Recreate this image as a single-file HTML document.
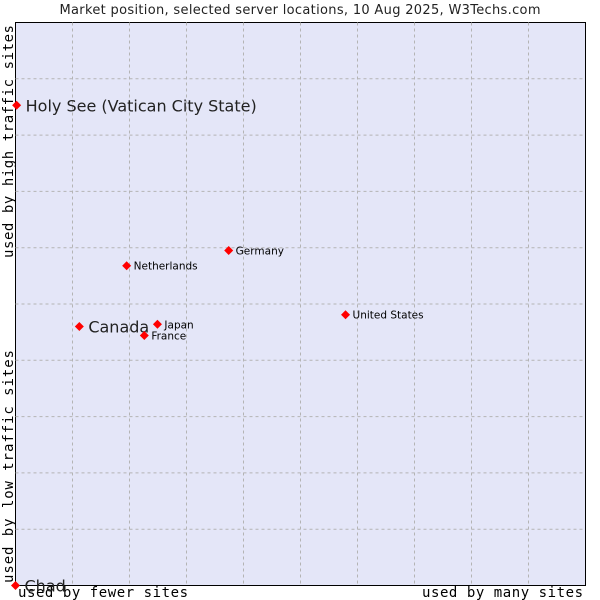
<!DOCTYPE html>
<html><head><meta charset="utf-8"><style>
html,body{margin:0;padding:0;background:#fff;width:600px;height:600px;overflow:hidden}
svg text{font-family:"DejaVu Sans","Liberation Sans",sans-serif}
.mono{font-family:"DejaVu Sans Mono","Liberation Mono",monospace}
</style></head><body>
<svg id="chart" width="600" height="600" xmlns="http://www.w3.org/2000/svg">
<text x="300" y="14" text-anchor="middle" font-size="13" textLength="481" fill="#222">Market position, selected server locations, 10 Aug 2025, W3Techs.com</text>
<rect x="15.5" y="22.5" width="570" height="563" fill="#e4e6f8" stroke="#000" stroke-width="1"/>
<g id="grid"></g>
<text class="mono" transform="translate(13,258) rotate(-90)" font-size="14" textLength="233" fill="#000">used by high traffic sites</text>
<text class="mono" transform="translate(13,583) rotate(-90)" font-size="14" textLength="233" fill="#000">used by low traffic sites</text>
<text class="mono" x="18" y="597" font-size="14" textLength="170" fill="#000">used by fewer sites</text>
<text class="mono" x="422" y="597" font-size="14" textLength="161" fill="#000">used by many sites</text>
<g id="points"></g>
</svg>
<script>
const names = ["Holy See (Vatican City State)","Canada","Japan","France","Netherlands","Germany","United States","Chad"];
const xValues = [0.2,11.2,24.9,22.6,19.5,37.4,57.9,0];
const yValues = [85.3,46,46.4,44.4,56.8,59.5,48.1,0];
const bigLabel = [true,true,false,false,false,false,false,true];
const L=15.5,R=585.5,T=22.5,B=585.5;
const sx=v=>L+v/100*(R-L), sy=v=>B-v/100*(B-T);
const NS="http://www.w3.org/2000/svg";
const grid=document.getElementById('grid');
for(let i=1;i<10;i++){
  const v=document.createElementNS(NS,'line');
  
  
  v.setAttribute('x1',sx(i*10));v.setAttribute('x2',sx(i*10));v.setAttribute('y1',T);v.setAttribute('y2',B);
  v.setAttribute('stroke','#b4b4b4');v.setAttribute('stroke-dasharray','3,3');grid.appendChild(v);
  const h=document.createElementNS(NS,'line');
  
  
  h.setAttribute('y1',sy(i*10));h.setAttribute('y2',sy(i*10));h.setAttribute('x1',L);h.setAttribute('x2',R);
  h.setAttribute('stroke','#b4b4b4');h.setAttribute('stroke-dasharray','3,3');grid.appendChild(h);
}
const pts=document.getElementById('points');
names.forEach((n,i)=>{
  const x=sx(xValues[i]),y=sy(yValues[i]);
  const m=document.createElementNS(NS,'polygon');
  
  
  m.setAttribute('points',`${x},${y-4.5} ${x+4.5},${y} ${x},${y+4.5} ${x-4.5},${y}`);
  m.setAttribute('fill','#f00');pts.appendChild(m);
  const t=document.createElementNS(NS,'text');
  
  
  const big=bigLabel[i];
  t.setAttribute('x',x+(big?9:7));t.setAttribute('y',y+(big?6:4));
  t.setAttribute('font-size',big?16:10.5);
  t.setAttribute('fill',big?'#222':'#000');
  t.textContent=n;pts.appendChild(t);
});
</script>
</body></html>
